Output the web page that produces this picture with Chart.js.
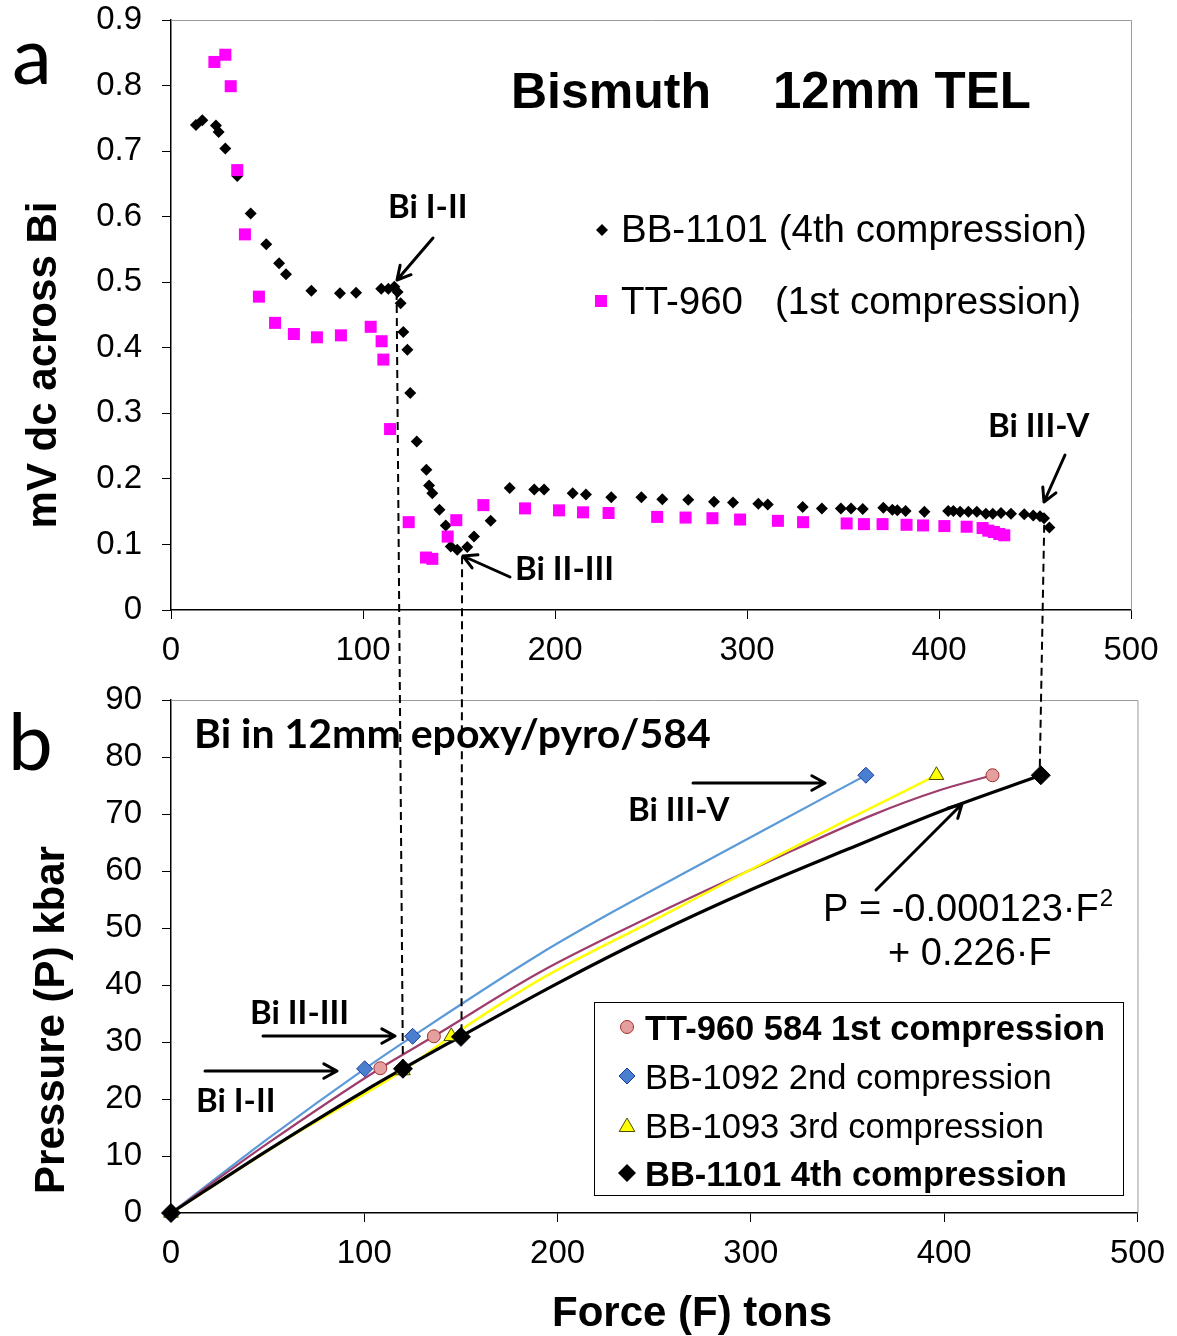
<!DOCTYPE html>
<html>
<head>
<meta charset="utf-8">
<script src="https://cdn.jsdelivr.net/npm/chart.js@4.4.1/dist/chart.umd.min.js"></script>
<style>
  body { margin: 0; background: #fff; }
  canvas { position: absolute; left: 0; }
</style>
</head>
<body>
<canvas id="topChart" width="1177" height="680" style="top:0px"></canvas>
<canvas id="bottomChart" width="1177" height="656" style="top:680px"></canvas>
<script>
// ---- panel a: mV dc across Bi vs force (tons) ----
const bb1101Force = [13, 16.3, 23.4, 24.8, 28.3, 34.5, 41.5, 49.6, 56.3, 59.9, 73.1, 88, 96.4, 109.5, 113.2, 116.3, 118, 119.6,
  121, 123.1, 124.6, 128, 133, 134.4, 136.1, 139.8, 143.1, 145.7, 149.1, 154.3, 157.8, 166.5, 176.4, 189.2, 194.3, 209.2,
  216.1, 229.3, 245, 255.9, 269.4, 282.8, 292.7, 305.9, 310.8, 329, 339, 348.9, 354.2, 360.3, 371, 375.7, 378.3, 382.6,
  392.4, 404.8, 407.5, 411, 415.3, 419.7, 424.4, 428, 432.3, 437.5, 444.4, 449.1, 452.6, 454.7, 457.5];
const bb1101Mv = [0.740, 0.747, 0.739, 0.729, 0.704, 0.662, 0.605, 0.558, 0.529, 0.512, 0.487, 0.483, 0.484, 0.490, 0.490, 0.493, 0.485, 0.468,
  0.424, 0.397, 0.331, 0.257, 0.214, 0.190, 0.178, 0.153, 0.129, 0.097, 0.092, 0.096, 0.112, 0.136, 0.186, 0.184, 0.184, 0.178,
  0.176, 0.172, 0.172, 0.169, 0.168, 0.165, 0.164, 0.162, 0.161, 0.157, 0.155, 0.155, 0.155, 0.154, 0.156, 0.153, 0.152, 0.151,
  0.150, 0.151, 0.151, 0.150, 0.150, 0.150, 0.147, 0.147, 0.148, 0.147, 0.146, 0.144, 0.143, 0.140, 0.126];

const tt960Force = [22.6, 28.3, 31.1, 34.5, 38.5, 45.8, 54.2, 64, 76, 88.5, 104, 109.7, 110.6, 114.1, 123.8, 132.8, 136.1,
  144.1, 148.6, 162.7, 184.4, 202.1, 214.6, 227.9, 253.2, 268, 282, 296.4, 316.1, 329.2, 351.9, 360.9, 370.6, 383.1,
  391.7, 402.8, 414.4, 422.7, 425.7, 428.6, 431.4, 434];
const tt960Mv = [0.836, 0.847, 0.799, 0.671, 0.573, 0.478, 0.438, 0.421, 0.416, 0.419, 0.432, 0.410, 0.382, 0.276, 0.134, 0.080, 0.078,
  0.112, 0.137, 0.160, 0.155, 0.152, 0.149, 0.148, 0.142, 0.141, 0.140, 0.138, 0.136, 0.134, 0.132, 0.131, 0.131, 0.130,
  0.129, 0.128, 0.127, 0.125, 0.121, 0.119, 0.116, 0.114];

const topXTicks = [0, 100, 200, 300, 400, 500];
const topYTicks = [0, 0.1, 0.2, 0.3, 0.4, 0.5, 0.6, 0.7, 0.8, 0.9];

// ---- panel b: pressure (kbar) vs force (tons) ----
const tt960MarkF = [0, 108.3, 136, 425];
const tt960MarkP = [0, 25.4, 31, 76.8];
const tt960LineF = [0, 50, 108.3, 136, 190.6, 242, 307.6, 362.8, 398, 425];
const tt960LineP = [0, 12.2, 25.4, 31, 42.2, 51.0, 61.4, 69.8, 74.2, 76.8];

const bb1092MarkF = [0, 100.2, 125, 359.5];
const bb1092MarkP = [0, 25.3, 31, 76.8];
const bb1092LineF = [0, 50, 100.2, 125, 190.6, 230, 273, 315, 359.5];
const bb1092LineP = [0, 13, 25.3, 31, 45.4, 53.1, 61.0, 68.7, 76.8];

const bb1093MarkF = [0, 120, 145, 396];
const bb1093MarkP = [0, 25, 31, 76.8];
const bb1093LineF = [0, 60, 120, 145, 190.6, 250, 307.6, 350, 396];
const bb1093LineP = [0, 13, 25, 31, 40.9, 51.4, 61.6, 69, 76.8];

const bb1101MarkF = [0, 120, 150, 450];
const bb1101MarkP = [0, 25.3, 30.9, 76.8];
const bb1101LineF = [0, 50, 100, 150, 200, 250, 300, 350, 400, 450];
const bb1101LineP = [0, 11, 21.4, 31, 40.3, 48.9, 56.7, 63.8, 70.7, 76.8];

const botXTicks = [0, 100, 200, 300, 400, 500];
const botYTicks = [0, 10, 20, 30, 40, 50, 60, 70, 80, 90];

// transitions joined by dashed lines (panel a point -> panel b point)
const transTopF = [117.5, 151.6, 454.8];
const transTopMv = [0.485, 0.082, 0.13];
const transBotF = [120, 150.3, 449.4];
const transBotP = [25.3, 30.9, 76.8];

const SANS = "'Liberation Sans', Arial, sans-serif";
const CAL = "Lato, 'Open Sans', sans-serif";
const BOT_OFFSET = 680;

function pts(xs, ys) { return xs.map((x, i) => ({ x: x, y: ys[i] })); }

function text(c, s, x, y, font, maxW, align) {
  c.font = font;
  c.fillStyle = '#000';
  c.textAlign = align || 'left';
  c.textBaseline = 'alphabetic';
  if (maxW) c.fillText(s, x, y, maxW); else c.fillText(s, x, y);
  const w = c.measureText(s).width;
  return maxW ? Math.min(w, maxW) : w;
}

function vtext(c, s, cx, cy, font) {
  c.save();
  c.translate(cx, cy);
  c.rotate(-Math.PI / 2);
  c.font = font;
  c.fillStyle = '#000';
  c.textAlign = 'center';
  c.textBaseline = 'middle';
  c.fillText(s, 0, 0);
  c.restore();
}

function arrow(c, x1, y1, x2, y2) {
  const a = Math.atan2(y2 - y1, x2 - x1), h = 15;
  c.save();
  c.strokeStyle = '#000';
  c.lineWidth = 3;
  c.lineCap = 'round';
  c.lineJoin = 'round';
  c.beginPath();
  c.moveTo(x1, y1); c.lineTo(x2, y2);
  c.moveTo(x2 - h * Math.cos(a - 0.5), y2 - h * Math.sin(a - 0.5));
  c.lineTo(x2, y2);
  c.lineTo(x2 - h * Math.cos(a + 0.5), y2 - h * Math.sin(a + 0.5));
  c.stroke();
  c.restore();
}

function shape(c, kind, x, y, r, fill, stroke) {
  c.save();
  c.beginPath();
  if (kind === 'circle') c.arc(x, y, r, 0, Math.PI * 2);
  else if (kind === 'diamond') { c.moveTo(x - r, y); c.lineTo(x, y - r); c.lineTo(x + r, y); c.lineTo(x, y + r); c.closePath(); }
  else if (kind === 'square') c.rect(x - r, y - r, 2 * r, 2 * r);
  else if (kind === 'triangle') { c.moveTo(x, y - r); c.lineTo(x + r * 0.866, y + r * 0.5); c.lineTo(x - r * 0.866, y + r * 0.5); c.closePath(); }
  c.fillStyle = fill;
  c.fill();
  if (stroke) { c.strokeStyle = stroke; c.lineWidth = 1; c.stroke(); }
  c.restore();
}

function frame(c, a) {
  c.save();
  c.strokeStyle = '#9a9a9a';
  c.lineWidth = 1;
  c.beginPath();
  c.moveTo(a.left, a.top + 0.5);
  c.lineTo(a.right + 0.5, a.top + 0.5);
  c.lineTo(a.right + 0.5, a.bottom);
  c.stroke();
  c.restore();
}

let topChart = null, bottomChart = null;

// dashed lines crossing both panels, drawn in page coords
function dashed(c, offset) {
  if (!topChart || !bottomChart) return;
  c.save();
  c.strokeStyle = '#000';
  c.lineWidth = 2;
  c.setLineDash([8, 5]);
  for (let i = 0; i < transTopF.length; i++) {
    const x1 = topChart.scales.x.getPixelForValue(transTopF[i]);
    const y1 = topChart.scales.y.getPixelForValue(transTopMv[i]);
    const x2 = bottomChart.scales.x.getPixelForValue(transBotF[i]);
    const y2 = bottomChart.scales.y.getPixelForValue(transBotP[i]) + BOT_OFFSET;
    c.beginPath();
    c.moveTo(x1, y1 - offset);
    c.lineTo(x2, y2 - offset);
    c.stroke();
  }
  c.restore();
}

function axisCfg(ticksArr, min, max, isX, fmt) {
  return {
    type: 'linear', min: min, max: max,
    afterBuildTicks: s => { s.ticks = ticksArr.map(v => ({ value: v })); },
    ticks: {
      color: '#000', font: { family: SANS, size: 33 }, padding: isX ? 12 : 20,
      callback: fmt || (v => String(v))
    },
    grid: { drawOnChartArea: false, drawTicks: true, tickLength: 9, tickColor: '#000', tickWidth: 1 },
    border: { display: true, color: '#000', width: 1.5 }
  };
}

// fixed plot-area geometry for the y axes
function yFit(s) { s.width = 171; s.paddingTop = 20; s.paddingBottom = 0; }

const topDecor = {
  id: 'topDecor',
  afterDraw(chart) {
    const c = chart.ctx;
    frame(c, chart.chartArea);
    dashed(c, 0);
    text(c, 'a', 12, 84, '80px ' + CAL);
    vtext(c, 'mV dc across Bi', 44, 365, 'bold 42px ' + SANS);
    text(c, 'Bismuth', 511, 108, 'bold 50px ' + SANS, 203);
    text(c, '12mm TEL', 773, 108, 'bold 51px ' + SANS, 260);
    shape(c, 'diamond', 602, 230, 6, '#000');
    text(c, 'BB-1101 (4th compression)', 621, 242, '38.5px ' + SANS, 466);
    shape(c, 'square', 601, 301, 6, '#ff00ff');
    text(c, 'TT-960', 621, 314, '38.5px ' + SANS, 125);
    text(c, '(1st compression)', 775, 314, '38.5px ' + SANS, 306);
    text(c, 'Bi I-II', 388, 218, 'bold 33px ' + CAL, 80);
    arrow(c, 433, 238, 397, 280);
    text(c, 'Bi II-III', 515, 580, 'bold 33px ' + CAL, 100);
    arrow(c, 510, 577, 463, 556);
    text(c, 'Bi III-V', 988, 437, 'bold 33px ' + CAL, 105);
    arrow(c, 1065, 455, 1044, 502);
  }
};

const bottomDecor = {
  id: 'bottomDecor',
  afterDraw(chart) {
    const c = chart.ctx;
    frame(c, chart.chartArea);
    dashed(c, BOT_OFFSET);
    c.save();
    c.translate(0, -BOT_OFFSET);
    text(c, 'b', 8, 770, '80px ' + CAL);
    vtext(c, 'Pressure (P) kbar', 52, 1020, 'bold 42px ' + SANS);
    text(c, 'Force (F) tons', 692, 1326, 'bold 42px ' + SANS, 284, 'center');
    text(c, 'Bi in 12mm epoxy/pyro/584', 194, 748, 'bold 41px ' + CAL, 548);
    text(c, 'Bi III-V', 628, 821, 'bold 33px ' + CAL, 103);
    arrow(c, 693, 783, 825, 783);
    arrow(c, 876, 890, 962, 804);
    const w = text(c, 'P = -0.000123\u00b7F', 823, 921, '38px ' + SANS, 282);
    text(c, '2', 823 + w + 1, 906, '24px ' + SANS);
    text(c, '+ 0.226\u00b7F', 888, 965, '38px ' + SANS, 165);
    text(c, 'Bi II-III', 250, 1024, 'bold 33px ' + CAL, 100);
    arrow(c, 263, 1036, 395, 1036);
    text(c, 'Bi I-II', 196, 1112, 'bold 33px ' + CAL, 80);
    arrow(c, 205, 1071, 337, 1071);
    // legend
    c.fillStyle = '#fff';
    c.fillRect(594, 1002, 529, 193);
    c.strokeStyle = '#000';
    c.lineWidth = 1;
    c.strokeRect(594.5, 1002.5, 529, 193);
    shape(c, 'circle', 627, 1027, 6.5, '#e3a09e', '#a0302e');
    text(c, 'TT-960 584 1st compression', 645, 1040, 'bold 34.5px ' + SANS, 460);
    shape(c, 'diamond', 627, 1076, 8, '#4a7fd0', '#1a3aa0');
    text(c, 'BB-1092 2nd compression', 645, 1089, '34.5px ' + SANS, 407);
    shape(c, 'triangle', 627, 1127, 9, '#ffff00', '#4a4a00');
    text(c, 'BB-1093 3rd compression', 645, 1138, '34.5px ' + SANS, 400);
    shape(c, 'diamond', 627, 1173, 9, '#000');
    text(c, 'BB-1101 4th compression', 645, 1186, 'bold 34.5px ' + SANS, 424);
    c.restore();
  }
};

const common = {
  responsive: false, animation: false, devicePixelRatio: 1,
  plugins: { legend: { display: false }, tooltip: { enabled: false } }
};

topChart = new Chart(document.getElementById('topChart'), {
  type: 'scatter',
  data: {
    datasets: [
      { label: 'TT-960 (1st compression)', data: pts(tt960Force, tt960Mv), pointStyle: 'rect', pointRadius: 8.5,
        backgroundColor: '#ff00ff', borderWidth: 0, order: 0, clip: false },
      { label: 'BB-1101 (4th compression)', data: pts(bb1101Force, bb1101Mv), pointStyle: 'rectRot', pointRadius: 6,
        backgroundColor: '#000', borderWidth: 0, order: 1, clip: false }
    ]
  },
  options: Object.assign({}, common, {
    layout: { padding: { left: 0, right: 46, top: 0, bottom: 0 } },
    scales: {
      x: Object.assign(axisCfg(topXTicks, 0, 500, true), { afterFit: s => { s.height = 70; } }),
      y: Object.assign(axisCfg(topYTicks, 0, 0.9, false, v => v === 0 ? '0' : v.toFixed(1)), { afterFit: yFit })
    }
  }),
  plugins: [topDecor]
});

function lineSet(label, xs, ys, color, width, order) {
  return { label: label, data: pts(xs, ys), showLine: true, pointRadius: 0, borderColor: color, borderWidth: width,
    backgroundColor: color, cubicInterpolationMode: 'monotone', order: order, clip: false };
}
function markSet(label, xs, ys, style, r, fill, stroke, order) {
  return { label: label, data: pts(xs, ys), showLine: false, pointStyle: style, pointRadius: r,
    backgroundColor: fill, borderColor: stroke, borderWidth: 1, order: order, clip: false };
}

bottomChart = new Chart(document.getElementById('bottomChart'), {
  type: 'scatter',
  data: {
    datasets: [
      lineSet('BB-1092 line', bb1092LineF, bb1092LineP, '#5b9ad8', 2.2, 8),
      lineSet('TT-960 line', tt960LineF, tt960LineP, '#9e3d6c', 2.2, 7),
      lineSet('BB-1093 line', bb1093LineF, bb1093LineP, '#ffff00', 2.5, 6),
      lineSet('BB-1101 line', bb1101LineF, bb1101LineP, '#000', 3.2, 5),
      markSet('BB-1092 2nd compression', bb1092MarkF, bb1092MarkP, 'rectRot', 8, '#4a7fd0', '#1a3aa0', 4),
      markSet('TT-960 584 1st compression', tt960MarkF, tt960MarkP, 'circle', 6.5, '#e3a09e', '#a0302e', 3),
      markSet('BB-1093 3rd compression', bb1093MarkF, bb1093MarkP, 'triangle', 8.5, '#ffff00', '#4a4a00', 2),
      markSet('BB-1101 4th compression', bb1101MarkF, bb1101MarkP, 'rectRot', 9.5, '#000', '#000', 1)
    ]
  },
  options: Object.assign({}, common, {
    layout: { padding: { left: 0, right: 38, top: 0, bottom: 0 } },
    scales: {
      x: Object.assign(axisCfg(botXTicks, 0, 500, true), { afterFit: s => { s.height = 123; } }),
      y: Object.assign(axisCfg(botYTicks, 0, 90, false), { afterFit: yFit })
    }
  }),
  plugins: [bottomDecor]
});

topChart.draw();
bottomChart.draw();
</script>
</body>
</html>
